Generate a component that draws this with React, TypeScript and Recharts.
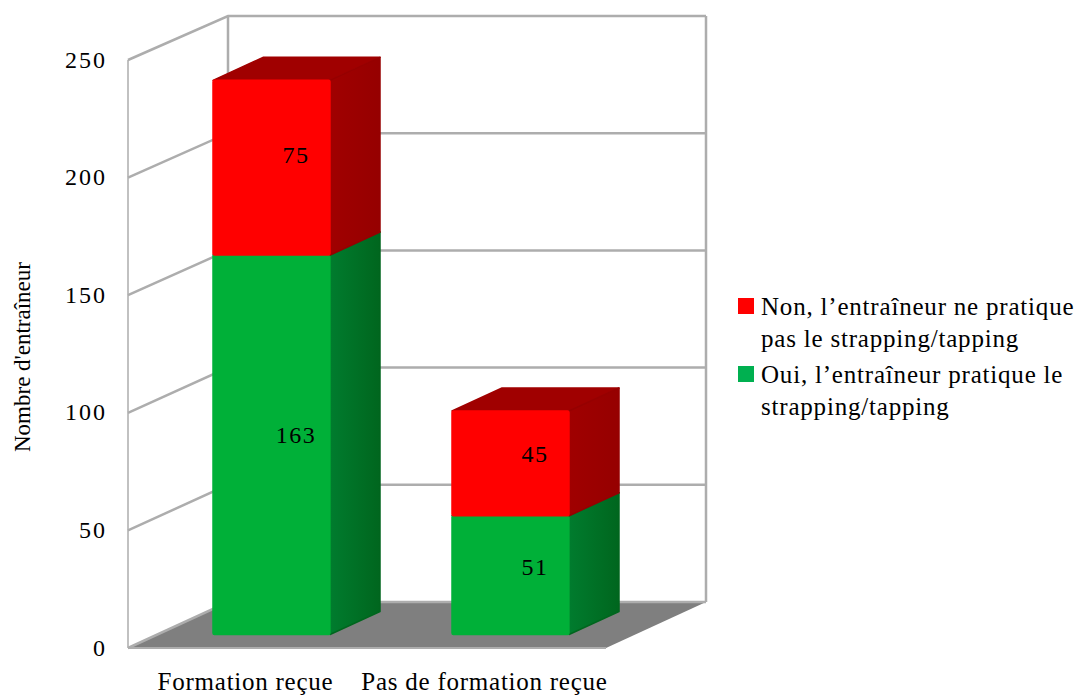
import { Bar, BarChart, CartesianGrid, LabelList, Legend, XAxis, YAxis } from "recharts";

const categories = ["Formation reçue", "Pas de formation reçue"];
const ouiValues = [163, 51];
const nonValues = [75, 45];
const yTicks = [0, 50, 100, 150, 200, 250];
const ouiName = "Oui, l’entraîneur pratique le strapping/tapping";
const nonName = "Non, l’entraîneur ne pratique pas le strapping/tapping";
const yTitle = "Nombre d'entraîneur";

const data = categories.map((name, i) => ({ name, oui: ouiValues[i], non: nonValues[i] }));

const FONT = "'Liberation Serif', serif";
const WALL = "#adadad";
const PLOT_BOTTOM = 648;
// depth of the fake 3D box
const BOX_DX = 100;
const BACK_BOTTOM = 602;
const BACK_SCALE = 0.9966;
const BAR_DX = 50;
const BAR_DY = -23;

function BoxLine(props: any) {
  const { x1, x2, y1 } = props;
  const isFloor = Math.abs(y1 - PLOT_BOTTOM) < 1;
  const by = BACK_BOTTOM - (PLOT_BOTTOM - y1) * BACK_SCALE;
  const bl = x1 + BOX_DX;
  const br = x2 + BOX_DX;
  return (
    <g>
      {isFloor && (
        <g>
          <polygon points={`${x1},${y1} ${bl},${by} ${br},${by} ${x2},${y1}`} fill="#7f7f7f" />
          <line x1={x1} x2={x1} y1={60} y2={y1} stroke={WALL} strokeWidth={1.5} />
          <line x1={bl} x2={bl} y1={16} y2={by} stroke={WALL} strokeWidth={2.5} />
          <line x1={br} x2={br} y1={16} y2={by} stroke={WALL} strokeWidth={2.5} />
        </g>
      )}
      <polyline
        points={`${x1},${y1} ${bl},${by} ${br},${by}`}
        fill="none"
        stroke={WALL}
        strokeWidth={2.5}
      />
    </g>
  );
}

// the bars stand a little inside the box, so they sit up from the front edge
function toBarY(y: number) {
  return 634.5 - (PLOT_BOTTOM - y) * 0.99;
}

function Bar3D(props: any) {
  const { x, y, width, height, front, side, sideEnd, id } = props;
  const l = x + 24;
  const r = l + width;
  const t = toBarY(y);
  const b = toBarY(y + height);
  return (
    <g strokeLinejoin="round">
      <defs>
        <linearGradient id={id} x1="0" x2="1" y1="0" y2="0">
          <stop offset="0%" stopColor={side} />
          <stop offset="100%" stopColor={sideEnd} />
        </linearGradient>
      </defs>
      <polygon
        points={`${l},${t} ${l + BAR_DX},${t + BAR_DY} ${r + BAR_DX},${t + BAR_DY} ${r},${t}`}
        fill={side}
        stroke={side}
        strokeWidth={1.5}
      />
      <polygon
        points={`${r},${t} ${r + BAR_DX},${t + BAR_DY} ${r + BAR_DX},${b + BAR_DY} ${r},${b}`}
        fill={`url(#${id})`}
        stroke={sideEnd}
        strokeWidth={1.5}
      />
      <rect
        x={l}
        y={t}
        width={width}
        height={b - t}
        rx={1.5}
        fill={front}
        stroke={front}
        strokeWidth={1.5}
      />
    </g>
  );
}

function ValueLabel(props: any) {
  const { x, y, width, height, value } = props;
  return (
    <text
      x={x + width / 2 + 48.5}
      y={y + height / 2 - 21.5}
      textAnchor="middle"
      dominantBaseline="central"
      fontFamily={FONT}
      fontSize={24}
      letterSpacing={1.5}
      fill="#000"
    >
      {value}
    </text>
  );
}

function YTitle({ viewBox }: any) {
  const cy = viewBox.y + viewBox.height / 2 + 3;
  return (
    <text
      x={22}
      y={cy}
      transform={`rotate(-90 22 ${cy})`}
      textAnchor="middle"
      dominantBaseline="central"
      fontFamily={FONT}
      fontSize={23}
      fill="#000"
    >
      {yTitle}
    </text>
  );
}

function LegendBox({ payload }: any) {
  return (
    <div style={{ fontFamily: FONT, fontSize: 25, letterSpacing: 0.8, lineHeight: "32px", color: "#000" }}>
      {(payload || []).map((item: any) => (
        <div key={item.value} style={{ position: "relative", paddingLeft: 23, marginBottom: 4 }}>
          <span
            style={{
              position: "absolute",
              left: 0,
              top: 7,
              width: 16,
              height: 16,
              background: item.color,
            }}
          />
          {item.value}
        </div>
      ))}
    </div>
  );
}

export default function App() {
  return (
    <div style={{ position: "absolute", left: 0, top: 0, width: 1078, height: 695, background: "#fff" }}>
      <BarChart
        width={1078}
        height={695}
        data={data}
        barSize={117}
        margin={{ top: 60, right: 132, bottom: 0, left: 68 }}
      >
        <CartesianGrid horizontal={(p: any) => <BoxLine key={p.y1} {...p} />} vertical={false} />
        <XAxis
          dataKey="name"
          height={47}
          tickLine={false}
          axisLine={{ stroke: WALL, strokeWidth: 2 }}
          tickMargin={18}
          interval={0}
          dx={-2}
          tick={{ fontFamily: FONT, fontSize: 25, letterSpacing: 0.75, fill: "#000" }}
        />
        <YAxis
          width={60}
          domain={[0, 250]}
          ticks={yTicks}
          tickLine={false}
          axisLine={false}
          tickMargin={15}
          dy={-1}
          tick={{ fontFamily: FONT, fontSize: 24, letterSpacing: 2, fill: "#000" }}
          label={<YTitle />}
        />
        <Legend
          layout="vertical"
          align="right"
          verticalAlign="top"
          wrapperStyle={{ left: 738, top: 291, width: 340, right: "auto" }}
          content={<LegendBox />}
        />
        <Bar
          dataKey="oui"
          name={ouiName}
          stackId="a"
          fill="#00b050"
          isAnimationActive={false}
          shape={(p: any) => (
            <Bar3D {...p} id={`green${p.index}`} front="#00b038" side="#007c2e" sideEnd="#00661e" />
          )}
        >
          <LabelList dataKey="oui" content={<ValueLabel />} />
        </Bar>
        <Bar
          dataKey="non"
          name={nonName}
          stackId="a"
          fill="#ff0000"
          isAnimationActive={false}
          shape={(p: any) => (
            <Bar3D {...p} id={`red${p.index}`} front="#ff0000" side="#a00000" sideEnd="#960000" />
          )}
        >
          <LabelList dataKey="non" content={<ValueLabel />} />
        </Bar>
      </BarChart>
    </div>
  );
}
